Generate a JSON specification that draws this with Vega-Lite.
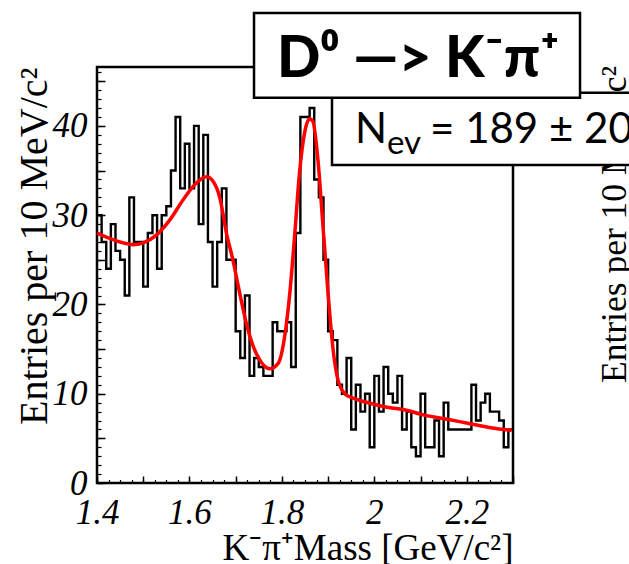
{
  "$schema": "https://vega.github.io/schema/vega-lite/v6.json",
  "width": 416,
  "height": 416,
  "autosize": {"type": "none"},
  "padding": {"left": 97, "top": 67, "right": 116, "bottom": 81},
  "background": "white",
  "config": {
    "view": {"stroke": "black", "strokeWidth": 2.5},
    "axis": {"domain": false, "grid": false, "tickColor": "black", "labelColor": "black", "titleColor": "black"}
  },
  "datasets": {
    "hist": [
      {"mass": 1.40, "entries": 30}, {"mass": 1.41, "entries": 27}, {"mass": 1.42, "entries": 24}, {"mass": 1.43, "entries": 29},
      {"mass": 1.44, "entries": 26}, {"mass": 1.45, "entries": 25}, {"mass": 1.46, "entries": 21}, {"mass": 1.47, "entries": 32},
      {"mass": 1.48, "entries": 27}, {"mass": 1.49, "entries": 27}, {"mass": 1.50, "entries": 22}, {"mass": 1.51, "entries": 28},
      {"mass": 1.52, "entries": 30}, {"mass": 1.53, "entries": 24}, {"mass": 1.54, "entries": 30}, {"mass": 1.55, "entries": 31},
      {"mass": 1.56, "entries": 35}, {"mass": 1.57, "entries": 41}, {"mass": 1.58, "entries": 33}, {"mass": 1.59, "entries": 38},
      {"mass": 1.60, "entries": 33}, {"mass": 1.61, "entries": 40}, {"mass": 1.62, "entries": 29}, {"mass": 1.63, "entries": 39},
      {"mass": 1.64, "entries": 27}, {"mass": 1.65, "entries": 22}, {"mass": 1.66, "entries": 27}, {"mass": 1.67, "entries": 33},
      {"mass": 1.68, "entries": 25}, {"mass": 1.69, "entries": 25}, {"mass": 1.70, "entries": 17}, {"mass": 1.71, "entries": 14},
      {"mass": 1.72, "entries": 21}, {"mass": 1.73, "entries": 12}, {"mass": 1.74, "entries": 14}, {"mass": 1.75, "entries": 13},
      {"mass": 1.76, "entries": 12}, {"mass": 1.77, "entries": 12}, {"mass": 1.78, "entries": 18}, {"mass": 1.79, "entries": 17},
      {"mass": 1.80, "entries": 17}, {"mass": 1.81, "entries": 18}, {"mass": 1.82, "entries": 13}, {"mass": 1.83, "entries": 28},
      {"mass": 1.84, "entries": 41}, {"mass": 1.85, "entries": 41}, {"mass": 1.86, "entries": 42}, {"mass": 1.87, "entries": 34},
      {"mass": 1.88, "entries": 32}, {"mass": 1.89, "entries": 25}, {"mass": 1.90, "entries": 17}, {"mass": 1.91, "entries": 16},
      {"mass": 1.92, "entries": 11}, {"mass": 1.93, "entries": 10}, {"mass": 1.94, "entries": 14}, {"mass": 1.95, "entries": 6},
      {"mass": 1.96, "entries": 11}, {"mass": 1.97, "entries": 8}, {"mass": 1.98, "entries": 10}, {"mass": 1.99, "entries": 4},
      {"mass": 2.00, "entries": 12}, {"mass": 2.01, "entries": 8}, {"mass": 2.02, "entries": 13}, {"mass": 2.03, "entries": 10},
      {"mass": 2.04, "entries": 9}, {"mass": 2.05, "entries": 12}, {"mass": 2.06, "entries": 6}, {"mass": 2.07, "entries": 8},
      {"mass": 2.08, "entries": 4}, {"mass": 2.09, "entries": 3}, {"mass": 2.10, "entries": 10}, {"mass": 2.11, "entries": 4},
      {"mass": 2.12, "entries": 4}, {"mass": 2.13, "entries": 7}, {"mass": 2.14, "entries": 3}, {"mass": 2.15, "entries": 9},
      {"mass": 2.16, "entries": 6}, {"mass": 2.17, "entries": 6}, {"mass": 2.18, "entries": 6}, {"mass": 2.19, "entries": 6},
      {"mass": 2.20, "entries": 6}, {"mass": 2.21, "entries": 11}, {"mass": 2.22, "entries": 7}, {"mass": 2.23, "entries": 9},
      {"mass": 2.24, "entries": 10}, {"mass": 2.25, "entries": 8}, {"mass": 2.26, "entries": 8}, {"mass": 2.27, "entries": 7},
      {"mass": 2.28, "entries": 4}, {"mass": 2.29, "entries": 6}, {"mass": 2.30, "entries": 6}
    ],
    "fit": [
      {"mass": 1.400, "f": 28.0}, {"mass": 1.428, "f": 27.4}, {"mass": 1.457, "f": 26.9}, {"mass": 1.478, "f": 26.7},
      {"mass": 1.500, "f": 26.9}, {"mass": 1.529, "f": 27.8}, {"mass": 1.558, "f": 29.5}, {"mass": 1.586, "f": 31.7},
      {"mass": 1.615, "f": 33.6}, {"mass": 1.637, "f": 34.3}, {"mass": 1.651, "f": 33.8}, {"mass": 1.666, "f": 31.9},
      {"mass": 1.680, "f": 28.0}, {"mass": 1.694, "f": 25.0}, {"mass": 1.709, "f": 21.2}, {"mass": 1.723, "f": 17.9},
      {"mass": 1.738, "f": 15.3}, {"mass": 1.752, "f": 13.8}, {"mass": 1.774, "f": 12.8}, {"mass": 1.792, "f": 13.4},
      {"mass": 1.806, "f": 16.4}, {"mass": 1.817, "f": 21.2}, {"mass": 1.828, "f": 28.0}, {"mass": 1.838, "f": 34.7},
      {"mass": 1.849, "f": 39.2}, {"mass": 1.860, "f": 40.8}, {"mass": 1.867, "f": 40.5}, {"mass": 1.878, "f": 36.2},
      {"mass": 1.889, "f": 28.7}, {"mass": 1.900, "f": 21.2}, {"mass": 1.910, "f": 15.3}, {"mass": 1.921, "f": 11.6},
      {"mass": 1.936, "f": 10.0}, {"mass": 1.954, "f": 9.5}, {"mass": 1.979, "f": 9.1}, {"mass": 2.022, "f": 8.55},
      {"mass": 2.065, "f": 8.2}, {"mass": 2.108, "f": 7.6}, {"mass": 2.152, "f": 7.2}, {"mass": 2.202, "f": 6.7},
      {"mass": 2.252, "f": 6.2}, {"mass": 2.297, "f": 5.9}
    ]
  },
  "resolve": {"axis": {"x": "independent", "y": "independent"}},
  "layer": [
    {
      "data": {"name": "hist"},
      "mark": {"type": "line", "interpolate": "step-after", "color": "black", "strokeWidth": 2.4},
      "encoding": {
        "x": {
          "field": "mass", "type": "quantitative",
          "scale": {"domain": [1.4, 2.3], "nice": false, "zero": false},
          "axis": {
            "orient": "bottom", "values": [1.4, 1.6, 1.8, 2.0, 2.2], "ticks": false, "format": "~g",
            "labelFont": "Liberation Serif", "labelFontStyle": "italic", "labelFontSize": 35, "labelPadding": 12, "labelFlush": false,
            "title": "K⁻π⁺Mass [GeV/c²]", "titleFont": "Liberation Serif", "titleFontWeight": "normal", "titleFontSize": 37,
            "titleAnchor": "end", "titlePadding": 0
          }
        },
        "y": {
          "field": "entries", "type": "quantitative",
          "scale": {"domain": [0, 46.6], "nice": false},
          "axis": {
            "orient": "left", "values": [0, 10, 20, 30, 40], "ticks": false, "format": "d",
            "labelFont": "Liberation Serif", "labelFontStyle": "italic", "labelFontSize": 35, "labelPadding": 10, "labelFlush": false,
            "title": "Entries per 10 MeV/c²", "titleFont": "Liberation Serif", "titleFontWeight": "normal", "titleFontSize": 40,
            "titleAnchor": "end", "titlePadding": -2
          }
        }
      }
    },
    {
      "data": {"name": "fit"},
      "mark": {"type": "line", "interpolate": "monotone", "color": "#ff0000", "strokeWidth": 3.5},
      "encoding": {
        "x": {
          "field": "mass", "type": "quantitative",
          "axis": {"orient": "bottom", "values": [1.4, 1.5, 1.6, 1.7, 1.8, 1.9, 2.0, 2.1, 2.2, 2.3], "labels": false, "tickSize": -7, "tickWidth": 1.5, "title": null}
        },
        "y": {
          "field": "f", "type": "quantitative",
          "axis": {"orient": "left", "values": [0, 5, 10, 15, 20, 25, 30, 35, 40, 45], "labels": false, "tickSize": -8, "tickWidth": 1.5, "title": null}
        }
      }
    },
    {
      "data": {"values": [{"label": "Entries per 10 MeV/c²"}]},
      "mark": {"type": "text", "angle": 270, "align": "left", "baseline": "alphabetic", "font": "Liberation Serif", "fontSize": 35.5, "color": "black"},
      "encoding": {
        "text": {"field": "label"},
        "x": {
          "datum": 2.5445, "type": "quantitative",
          "axis": {"orient": "bottom", "values": [1.4, 1.425, 1.45, 1.475, 1.5, 1.525, 1.55, 1.575, 1.6, 1.625, 1.65, 1.675, 1.7, 1.725, 1.75, 1.775, 1.8, 1.825, 1.85, 1.875, 1.9, 1.925, 1.95, 1.975, 2.0, 2.025, 2.05, 2.075, 2.1, 2.125, 2.15, 2.175, 2.2, 2.225, 2.25, 2.275, 2.3], "labels": false, "tickSize": -3.5, "tickWidth": 1.2, "title": null}
        },
        "y": {
          "datum": 11.2, "type": "quantitative",
          "axis": {"orient": "left", "values": [0, 1, 2, 3, 4, 5, 6, 7, 8, 9, 10, 11, 12, 13, 14, 15, 16, 17, 18, 19, 20, 21, 22, 23, 24, 25, 26, 27, 28, 29, 30, 31, 32, 33, 34, 35, 36, 37, 38, 39, 40, 41, 42, 43, 44, 45, 46], "labels": false, "tickSize": -4, "tickWidth": 1.2, "title": null}
        }
      }
    },
    {
      "data": {"values": [{}]},
      "mark": {"type": "rect", "fill": "white", "stroke": "black", "strokeWidth": 2.5},
      "encoding": {
        "x": {"datum": 1.9084, "type": "quantitative", "axis": null},
        "x2": {"datum": 2.58},
        "y": {"datum": 43.71, "type": "quantitative", "axis": null},
        "y2": {"datum": 35.61}
      }
    },
    {
      "data": {"values": [{"t": "N"}]},
      "mark": {"type": "text", "align": "left", "baseline": "alphabetic", "font": "Lato", "fontSize": 42, "color": "black"},
      "encoding": {
        "text": {"field": "t"},
        "x": {"datum": 1.9582, "type": "quantitative", "axis": null},
        "y": {"datum": 38.07, "type": "quantitative", "axis": null}
      }
    },
    {
      "data": {"values": [{"t": "ev"}]},
      "mark": {"type": "text", "align": "left", "baseline": "alphabetic", "font": "Lato", "fontSize": 33, "color": "black"},
      "encoding": {
        "text": {"field": "t"},
        "x": {"datum": 2.0274, "type": "quantitative", "axis": null},
        "y": {"datum": 36.8, "type": "quantitative", "axis": null}
      }
    },
    {
      "data": {"values": [{"t": "= 189 ± 20"}]},
      "mark": {"type": "text", "align": "left", "baseline": "alphabetic", "font": "Lato", "fontSize": 42, "color": "black"},
      "encoding": {
        "text": {"field": "t"},
        "x": {"datum": 2.1205, "type": "quantitative", "axis": null},
        "y": {"datum": 38.07, "type": "quantitative", "axis": null}
      }
    },
    {
      "data": {"values": [{}]},
      "mark": {"type": "rect", "fill": "white", "stroke": "black", "strokeWidth": 2.5},
      "encoding": {
        "x": {"datum": 1.7397, "type": "quantitative", "axis": null},
        "x2": {"datum": 2.445},
        "y": {"datum": 52.66, "type": "quantitative", "axis": null},
        "y2": {"datum": 43.15}
      }
    },
    {
      "data": {"values": [{"t": "D⁰ —> K⁻π⁺"}]},
      "mark": {"type": "text", "align": "left", "baseline": "alphabetic", "font": "Lato", "fontWeight": 900, "fontSize": 57, "color": "black"},
      "encoding": {
        "text": {"field": "t"},
        "x": {"datum": 1.7894, "type": "quantitative", "axis": null},
        "y": {"datum": 45.46, "type": "quantitative", "axis": null}
      }
    }
  ]
}
